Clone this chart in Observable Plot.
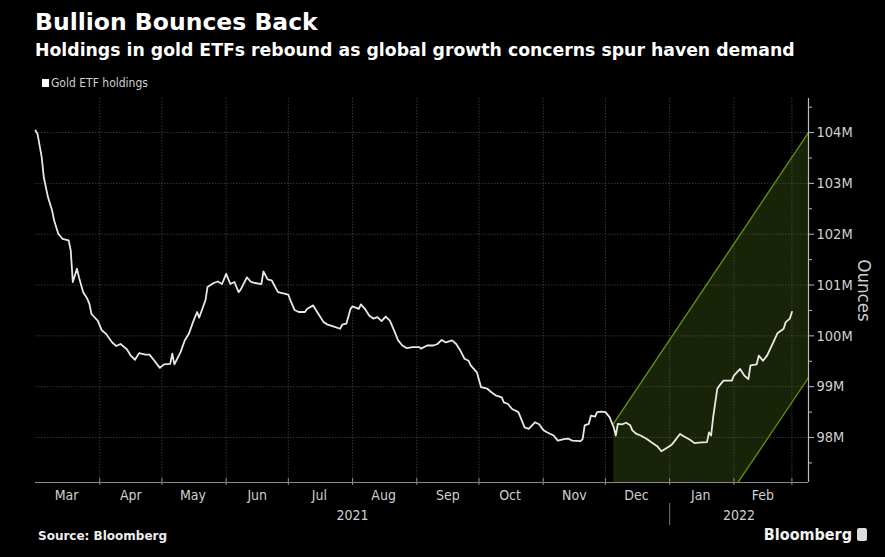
<!DOCTYPE html>
<html><head><meta charset="utf-8">
<script src="https://cdn.jsdelivr.net/npm/d3@7"></script>
<script src="https://cdn.jsdelivr.net/npm/@observablehq/plot@0.6"></script>
<style>
html,body{margin:0;padding:0;background:#000;}
#wrap{position:relative;width:885px;height:557px;background:#000;overflow:hidden;
  font-family:"DejaVu Sans Condensed","DejaVu Sans",sans-serif;color:#fff;}
.wide{font-family:"DejaVu Sans",sans-serif;font-stretch:normal;}
#header{position:relative;height:90px;}
#title{position:absolute;left:35px;top:9px;font-size:23.5px;line-height:26px;font-weight:bold;color:#fff;white-space:nowrap;}
#subtitle{position:absolute;left:35px;top:40px;font-size:17.3px;line-height:20px;font-weight:bold;color:#fff;white-space:nowrap;}
#legend{position:absolute;left:42px;top:75px;font-size:12px;line-height:16px;color:#cfcfcf;white-space:nowrap;font-stretch:condensed;}
#legend .sw{display:inline-block;width:7px;height:8px;background:#fff;margin-right:2px;}
#chart svg{display:block;}
#footer{position:relative;height:30px;}
#source{position:absolute;left:38px;top:2px;font-size:12px;font-weight:bold;color:#eee;}
#logo{position:absolute;right:18px;top:-2px;font-size:16px;font-weight:bold;color:#f2f2f2;white-space:nowrap;font-stretch:condensed;}
#logo .ic{display:inline-block;width:10px;height:13px;background:#ddd;border-radius:2px;margin-left:5px;vertical-align:-1px;}
</style></head>
<body>
<div id="wrap">
  <div id="header">
    <div id="title" class="wide">Bullion Bounces Back</div>
    <div id="subtitle" class="wide">Holdings in gold ETFs rebound as global growth concerns spur haven demand</div>
    <div id="legend"><span class="sw"></span>Gold ETF holdings</div>
  </div>
  <div id="chart"></div>
  <div id="footer">
    <div id="source" class="wide">Source: Bloomberg</div>
    <div id="logo">Bloomberg<span class="ic"></span></div>
  </div>
</div>
<script>
// ---- Data (millions of ounces) ----
const dates = ["2021-03-01","2021-03-02","2021-03-04","2021-03-05","2021-03-07","2021-03-09","2021-03-10","2021-03-12","2021-03-14","2021-03-17","2021-03-18","2021-03-19","2021-03-21","2021-03-22","2021-03-24","2021-03-26","2021-03-27","2021-03-28","2021-03-31","2021-04-02","2021-04-04","2021-04-07","2021-04-09","2021-04-11","2021-04-14","2021-04-16","2021-04-18","2021-04-20","2021-04-23","2021-04-25","2021-04-27","2021-04-30","2021-05-02","2021-05-05","2021-05-06","2021-05-07","2021-05-10","2021-05-12","2021-05-14","2021-05-16","2021-05-18","2021-05-19","2021-05-22","2021-05-23","2021-05-26","2021-05-28","2021-05-30","2021-06-01","2021-06-03","2021-06-05","2021-06-07","2021-06-08","2021-06-11","2021-06-13","2021-06-15","2021-06-18","2021-06-19","2021-06-21","2021-06-23","2021-06-26","2021-06-28","2021-07-01","2021-07-02","2021-07-04","2021-07-06","2021-07-09","2021-07-10","2021-07-13","2021-07-14","2021-07-16","2021-07-18","2021-07-20","2021-07-23","2021-07-26","2021-07-27","2021-07-29","2021-07-31","2021-08-01","2021-08-04","2021-08-05","2021-08-07","2021-08-09","2021-08-11","2021-08-13","2021-08-15","2021-08-17","2021-08-19","2021-08-21","2021-08-23","2021-08-25","2021-08-27","2021-08-30","2021-09-02","2021-09-03","2021-09-06","2021-09-09","2021-09-11","2021-09-13","2021-09-15","2021-09-18","2021-09-20","2021-09-22","2021-09-24","2021-09-26","2021-09-27","2021-09-30","2021-10-02","2021-10-05","2021-10-07","2021-10-09","2021-10-12","2021-10-13","2021-10-15","2021-10-17","2021-10-20","2021-10-21","2021-10-23","2021-10-25","2021-10-28","2021-10-30","2021-11-01","2021-11-03","2021-11-06","2021-11-08","2021-11-11","2021-11-13","2021-11-15","2021-11-19","2021-11-20","2021-11-21","2021-11-23","2021-11-24","2021-11-26","2021-11-27","2021-11-29","2021-12-01","2021-12-03","2021-12-05","2021-12-06","2021-12-07","2021-12-09","2021-12-11","2021-12-13","2021-12-14","2021-12-16","2021-12-18","2021-12-21","2021-12-23","2021-12-26","2021-12-28","2021-12-30","2022-01-02","2022-01-03","2022-01-06","2022-01-08","2022-01-11","2022-01-13","2022-01-15","2022-01-19","2022-01-20","2022-01-21","2022-01-22","2022-01-24","2022-01-25","2022-01-27","2022-01-29","2022-01-31","2022-02-01","2022-02-04","2022-02-06","2022-02-08","2022-02-09","2022-02-12","2022-02-13","2022-02-15","2022-02-17","2022-02-20","2022-02-22","2022-02-25","2022-02-26","2022-02-28","2022-03-01"];
const holdings = [104.04,103.97,103.51,103.12,102.73,102.47,102.27,102.01,101.91,101.88,101.68,101.06,101.32,101.15,100.86,100.73,100.63,100.43,100.30,100.11,100.04,99.87,99.80,99.84,99.74,99.61,99.53,99.66,99.63,99.63,99.53,99.37,99.44,99.45,99.65,99.44,99.68,99.91,100.04,100.27,100.47,100.36,100.70,100.96,101.04,101.07,101.02,101.22,101.02,101.06,100.86,100.91,101.15,101.06,101.04,101.02,101.27,101.11,101.09,100.86,100.84,100.81,100.70,100.51,100.47,100.47,100.53,100.60,100.53,100.40,100.27,100.22,100.18,100.14,100.22,100.24,100.53,100.58,100.53,100.62,100.53,100.40,100.34,100.37,100.29,100.38,100.30,100.11,99.91,99.81,99.76,99.78,99.78,99.75,99.81,99.81,99.84,99.92,99.87,99.91,99.84,99.71,99.55,99.51,99.42,99.28,98.99,98.96,98.89,98.83,98.79,98.69,98.66,98.56,98.50,98.40,98.20,98.17,98.30,98.26,98.15,98.10,98.04,97.94,97.97,97.98,97.94,97.93,97.97,98.24,98.27,98.43,98.41,98.50,98.51,98.50,98.40,98.20,98.04,98.27,98.26,98.29,98.24,98.14,98.07,98.04,97.97,97.91,97.83,97.73,97.78,97.86,97.91,98.07,98.02,97.95,97.89,97.90,97.91,98.10,98.04,98.40,98.96,99.02,99.12,99.12,99.12,99.22,99.35,99.22,99.15,99.42,99.44,99.61,99.51,99.61,99.87,100.05,100.14,100.27,100.34,100.47];

// Trend channel (upper / lower bounds, millions of ounces)
const channelDates = ["2021-12-05","2022-02-03","2022-03-09"];
const channelUpper = [98.28, 101.93, 104.0];
const channelLower = [93.47, 97.12, 99.18];

// Axes
const xDomainDates = ["2021-03-01","2022-03-09"];
const yDomain = [97.115, 104.67];
const yTicks = [98, 99, 100, 101, 102, 103, 104];
const yMinorTicks = [97.5, 98.5, 99.5, 100.5, 101.5, 102.5, 103.5, 104.5];
const monthStartDates = ["2021-04-01","2021-05-01","2021-06-01","2021-07-01","2021-08-01","2021-09-01","2021-10-01","2021-11-01","2021-12-01","2022-01-01","2022-02-01","2022-03-01"];
const monthLabels = ["Mar","Apr","May","Jun","Jul","Aug","Sep","Oct","Nov","Dec","Jan","Feb"];
const monthLabelDates = ["2021-03-16","2021-04-16","2021-05-16","2021-06-16","2021-07-16","2021-08-16","2021-09-16","2021-10-16","2021-11-16","2021-12-16","2022-01-16","2022-02-15"];
const yearLabels = ["2021","2022"];
const yearStartDates = ["2021-01-01","2022-01-01"];

// ---- Build ----
const P = s => new Date(s + "T00:00:00Z");
const series = dates.map((d, i) => ({date: P(d), value: holdings[i]}));
const channel = channelDates.map((d, i) => ({date: P(d), upper: channelUpper[i], lower: channelLower[i]}));
const xDomain = xDomainDates.map(P);
const monthStarts = monthStartDates.map(P);
const years = yearLabels.map((t, i) => {
  const s = Math.max(+P(yearStartDates[i]), +xDomain[0]);
  const nextStart = i + 1 < yearStartDates.length ? +P(yearStartDates[i + 1]) : +xDomain[1];
  const e = Math.min(nextStart, +xDomain[1]);
  return {label: t, date: new Date((s + e) / 2)};
});
const monthText = monthLabels.map((t, i) => ({label: t, date: P(monthLabelDates[i])}));

const grid = {stroke: "#5a5a5a", strokeOpacity: 0.6, strokeDasharray: "1.5,1.5", strokeWidth: 1};
const fontFam = '"DejaVu Sans Condensed","DejaVu Sans",sans-serif';

const chart = Plot.plot({
  width: 885, height: 437,
  marginTop: 8, marginBottom: 45, marginLeft: 35, marginRight: 77,
  style: {background: "#000", color: "#cfcfcf", fontFamily: fontFam, fontSize: "14px", overflow: "visible"},
  x: {type: "utc", domain: xDomain, axis: null},
  y: {domain: yDomain, axis: null},
  marks: [
    Plot.areaY(channel, {x: "date", y1: "lower", y2: "upper", fill: "#182308", clip: true}),
    Plot.ruleY(yTicks, grid),
    Plot.ruleX(monthStarts, grid),
    Plot.lineY(channel, {x: "date", y: "upper", stroke: "#5e8f0a", strokeWidth: 1.4, clip: true}),
    Plot.lineY(channel, {x: "date", y: "lower", stroke: "#5e8f0a", strokeWidth: 1.4, clip: true}),
    Plot.ruleY([yDomain[0]], {stroke: "#8a8a8a", strokeWidth: 1.2}),
    Plot.ruleX([xDomain[1]], {stroke: "#bdbdbd", strokeWidth: 1.2}),
    Plot.ruleX(monthStarts, {stroke: "#8a8a8a", insetTop: 380, insetBottom: -3}),
    Plot.axisY({anchor: "right", ticks: yTicks, tickFormat: d => d + "M", tickSize: 5, tickPadding: 3, fontSize: 14.5, fill: "#d0d0d0", stroke: "#bdbdbd"}),
    Plot.axisY({anchor: "right", ticks: yMinorTicks, tickSize: 3, tickFormat: () => "", stroke: "#bdbdbd"}),
    Plot.text(monthText, {x: "date", text: "label", frameAnchor: "bottom", dy: 13, lineAnchor: "middle", fontSize: 14, fill: "#cfcfcf"}),
    Plot.text(years, {x: "date", text: "label", frameAnchor: "bottom", dy: 33, lineAnchor: "middle", fontSize: 14, fill: "#cfcfcf"}),
    Plot.ruleX([P(yearStartDates[1])], {stroke: "#777", insetTop: 405, insetBottom: -43}),
    Plot.text(["Ounces"], {frameAnchor: "right", dx: 55, rotate: 90, fontSize: 18.5, fill: "#cfcfcf", textAnchor: "middle", lineAnchor: "middle"}),
    Plot.lineY(series, {x: "date", y: "value", stroke: "#e9e9e3", strokeWidth: 1.8, strokeLinejoin: "round"})
  ]
});
document.getElementById("chart").appendChild(chart);
</script>
</body></html>
